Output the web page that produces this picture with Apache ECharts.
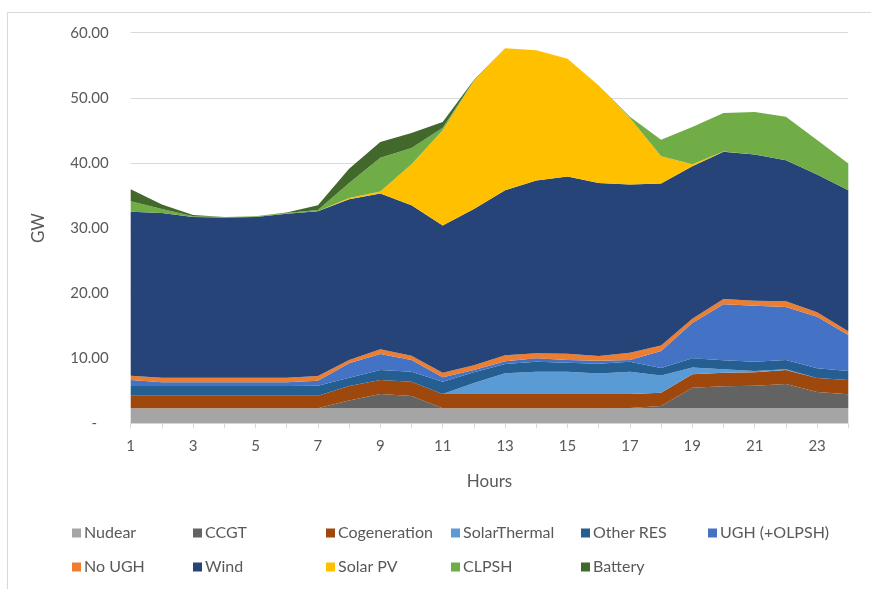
<!DOCTYPE html>
<html>
<head>
<meta charset="utf-8">
<script src="https://cdn.jsdelivr.net/npm/echarts@6/dist/echarts.min.js"></script>
<style>
html,body{margin:0;padding:0;background:#fff;}
#c{width:871px;height:589px;}
</style>
</head>
<body>
<div id="c"></div>
<script>
var hours = ['1','2','3','4','5','6','7','8','9','10','11','12','13','14','15','16','17','18','19','20','21','22','23','24'];
var yTicks = [0, 10, 20, 30, 40, 50, 60];

var nuclear = [2.3,2.3,2.3,2.3,2.3,2.3,2.3,2.3,2.3,2.3,2.3,2.3,2.3,2.3,2.3,2.3,2.3,2.3,2.3,2.3,2.3,2.3,2.3,2.3];
var ccgt = [0,0,0,0,0,0,0,1.2,2.2,1.9,0,0,0,0,0,0,0.05,0.36,3.17,3.4,3.48,3.74,2.52,2.17];
var cogeneration = [1.92,1.92,1.92,1.92,1.92,1.92,1.92,2.23,2.15,2.17,2.2,2.2,2.2,2.2,2.2,2.2,2.15,2.04,2.08,2.05,2.07,2.16,2.15,2.18];
var solarThermal = [0,0,0,0,0,0,0,0,0,0,0,1.7,3.2,3.43,3.4,3.15,3.43,2.66,1.02,0.55,0.2,0.1,0,0];
var otherRes = [1.51,1.51,1.51,1.51,1.51,1.51,1.54,1.27,1.54,1.53,1.89,1.65,1.4,1.54,1.4,1.5,1.54,1.12,1.41,1.4,1.42,1.42,1.48,1.38];
var ugh = [0.92,0.57,0.57,0.57,0.57,0.57,0.77,2.22,2.46,1.82,0.68,0.35,0.45,0.53,0.42,0.45,0.25,2.61,5.42,8.58,8.6,8.15,7.93,5.53];
var noUgh = [0.65,0.7,0.7,0.7,0.7,0.7,0.72,0.5,0.72,0.66,0.7,0.7,0.9,0.75,0.98,0.74,1.13,0.88,0.65,0.81,0.76,0.88,0.67,0.57];
var wind = [25.2,25.3,24.7,24.6,24.7,25.2,25.33,24.68,23.93,23.12,22.63,24.0,25.35,26.55,27.2,26.56,25.85,24.87,23.45,22.61,22.47,21.65,21.15,21.67];
var solarPv = [0,0,0,0,0,0,0,0.2,0.3,6.3,14.6,19.7,21.8,20.0,18.1,15.0,10.2,4.2,0.3,0.05,0,0,0,0];
var clpsh = [1.6,0.6,0.1,0.1,0.1,0.1,0.2,2.3,5.2,2.5,0.4,0.05,0,0,0,0,0.2,2.5,5.7,5.9,6.5,6.7,5.3,4.1];
var battery = [1.87,0.7,0.2,0,0,0.1,0.7,2.2,2.4,2.3,0.9,0.1,0,0,0,0,0,0,0,0,0,0,0,0];

var seriesNames = ['Nudear','CCGT','Cogeneration','SolarThermal','Other RES','UGH (+OLPSH)','No UGH','Wind','Solar PV','CLPSH','Battery'];
var seriesData = [nuclear, ccgt, cogeneration, solarThermal, otherRes, ugh, noUgh, wind, solarPv, clpsh, battery];
var colors = ['#A5A5A5','#636363','#9E480E','#5B9BD5','#255E91','#4472C4','#ED7D31','#264478','#FFC000','#70AD47','#43682B'];

var FONT = 'Lato, "Open Sans", sans-serif';
var TXT = '#595959';

var series = seriesNames.map(function (n, i) {
  return {
    name: n, type: 'line', stack: 'total', data: seriesData[i],
    symbol: 'none', smooth: false,
    lineStyle: { width: 0, color: colors[i] },
    itemStyle: { color: colors[i] },
    areaStyle: { color: colors[i], opacity: 1 },
    emphasis: { disabled: true }
  };
});

var legendPos = [
  [67,519],[188,519],[321,519],[446,519],[576,519],[703,519],
  [67,553],[188,553],[321,553],[446,553],[576,553]
];
var legends = seriesNames.map(function (n, i) {
  return {
    data: [n], left: legendPos[i][0], top: legendPos[i][1],
    icon: 'rect', itemWidth: 9, itemHeight: 9, itemGap: 0,
    selectedMode: false,
    textStyle: { fontFamily: FONT, fontSize: 16, color: TXT, padding: [0,0,0,-2], lineHeight: 18 }
  };
});

var chart = echarts.init(document.getElementById('c'), null, { renderer: 'canvas' });
chart.setOption({
  animation: false,
  backgroundColor: '#fff',
  color: colors,
  graphic: [{
    type: 'rect', silent: true, z: -10,
    shape: { x: 7.5, y: 12.5, width: 900, height: 620 },
    style: { fill: 'none', stroke: '#d9d9d9', lineWidth: 1 }
  }],
  legend: legends,
  grid: { left: 130.7, right: 22.7, top: 32.7, bottom: 165.7, containLabel: false },
  xAxis: {
    type: 'category', data: hours, boundaryGap: false,
    name: 'Hours', nameLocation: 'middle', nameGap: 50,
    nameTextStyle: { fontFamily: FONT, fontSize: 17, color: TXT },
    axisLine: { lineStyle: { color: '#d9d9d9', width: 1 } },
    axisTick: { show: true, interval: 0, length: 5, lineStyle: { color: '#d9d9d9' } },
    axisLabel: { interval: 1, fontFamily: FONT, fontSize: 15, color: TXT, margin: 15 },
    splitLine: { show: false }
  },
  yAxis: {
    type: 'value', min: yTicks[0], max: yTicks[yTicks.length - 1], interval: 10,
    name: 'GW', nameLocation: 'middle', nameGap: 84, nameRotate: 90,
    nameTextStyle: { fontFamily: FONT, fontSize: 17, color: TXT },
    axisLine: { show: false }, axisTick: { show: false },
    axisLabel: {
      fontFamily: FONT, fontSize: 15, color: TXT, margin: 22,
      formatter: function (v) { return v === 0 ? '-   ' : v.toFixed(2); }
    },
    splitLine: { lineStyle: { color: '#d9d9d9', width: 1 } }
  },
  series: series
});
</script>
</body>
</html>
